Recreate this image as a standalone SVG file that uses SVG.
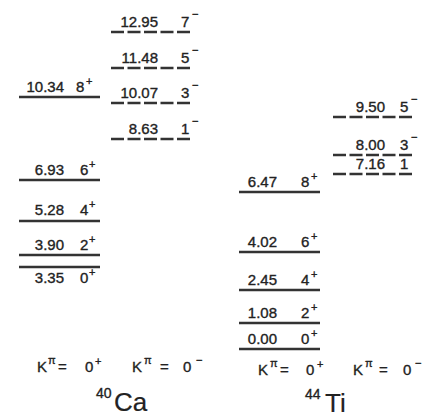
<svg xmlns="http://www.w3.org/2000/svg" width="423" height="418" viewBox="0 0 423 418">
<style>
text{font-family:"Liberation Sans",Arial,sans-serif;fill:#222;stroke:#222;stroke-width:0.35}
.e{font-size:15px;text-anchor:end}
.j{font-size:15px}
.s{font-size:11px}
.k{font-size:15px}
.solid{stroke:#333;stroke-width:2.5}
.dash{stroke:#333;stroke-width:2.5;stroke-dasharray:13 3.5}
.big{font-size:26px;stroke-width:0.2}
.mass{font-size:14px}
</style>
<rect width="423" height="418" fill="#fff"/>
<g id="connectors">
<line class="solid" x1="19" y1="97" x2="100" y2="97"/>
<line class="solid" x1="19" y1="180" x2="100" y2="180"/>
<line class="solid" x1="19" y1="221" x2="100" y2="221"/>
<line class="solid" x1="19" y1="255" x2="100" y2="255"/>
<line class="solid" x1="19" y1="267" x2="100" y2="267"/>
<line class="dash" x1="111" y1="32" x2="193" y2="32"/>
<line class="dash" x1="111" y1="68" x2="193" y2="68"/>
<line class="dash" x1="111" y1="103" x2="193" y2="103"/>
<line class="dash" x1="111" y1="139" x2="193" y2="139"/>
<line class="solid" x1="239" y1="192" x2="320" y2="192"/>
<line class="solid" x1="239" y1="252" x2="320" y2="252"/>
<line class="solid" x1="239" y1="290" x2="320" y2="290"/>
<line class="solid" x1="239" y1="323" x2="320" y2="323"/>
<line class="solid" x1="239" y1="349" x2="320" y2="349"/>
<line class="dash" x1="333" y1="117" x2="414" y2="117"/>
<line class="dash" x1="333" y1="155" x2="414" y2="155"/>
<line class="dash" x1="333" y1="174" x2="414" y2="174"/>
</g>
<g id="ca-1034"><text class="e" x="64" y="92">10.34</text><text class="j" x="76" y="92">8</text><text class="s" x="86" y="85">+</text></g>
<g id="ca-693"><text class="e" x="64" y="175">6.93</text><text class="j" x="80" y="175">6</text><text class="s" x="89" y="168">+</text></g>
<g id="ca-528"><text class="e" x="64" y="215">5.28</text><text class="j" x="80" y="215">4</text><text class="s" x="89" y="208">+</text></g>
<g id="ca-390"><text class="e" x="64" y="250">3.90</text><text class="j" x="80" y="250">2</text><text class="s" x="89" y="243">+</text></g>
<g id="ca-335"><text class="e" x="64" y="283">3.35</text><text class="j" x="80" y="283">0</text><text class="s" x="89" y="276">+</text></g>
<g id="ca-1295"><text class="e" x="158" y="27">12.95</text><text class="j" x="181" y="27">7</text><text class="s" x="192" y="18">−</text></g>
<g id="ca-1148"><text class="e" x="158" y="63">11.48</text><text class="j" x="181" y="63">5</text><text class="s" x="192" y="54">−</text></g>
<g id="ca-1007"><text class="e" x="158" y="98">10.07</text><text class="j" x="181" y="98">3</text><text class="s" x="192" y="89">−</text></g>
<g id="ca-863"><text class="e" x="158" y="134">8.63</text><text class="j" x="181" y="134">1</text><text class="s" x="192" y="125">−</text></g>
<g id="ti-647"><text class="e" x="277" y="187">6.47</text><text class="j" x="301" y="187">8</text><text class="s" x="311" y="180">+</text></g>
<g id="ti-402"><text class="e" x="277" y="247">4.02</text><text class="j" x="301" y="247">6</text><text class="s" x="311" y="240">+</text></g>
<g id="ti-245"><text class="e" x="277" y="285">2.45</text><text class="j" x="301" y="285">4</text><text class="s" x="311" y="278">+</text></g>
<g id="ti-108"><text class="e" x="277" y="318">1.08</text><text class="j" x="301" y="318">2</text><text class="s" x="311" y="311">+</text></g>
<g id="ti-000"><text class="e" x="277" y="344">0.00</text><text class="j" x="301" y="344">0</text><text class="s" x="311" y="337">+</text></g>
<g id="ti-950"><text class="e" x="385" y="112">9.50</text><text class="j" x="400" y="112">5</text><text class="s" x="411" y="103">−</text></g>
<g id="ti-800"><text class="e" x="385" y="150">8.00</text><text class="j" x="400" y="150">3</text><text class="s" x="411" y="141">−</text></g>
<g id="ti-716"><text class="e" x="385" y="169">7.16</text><text class="j" x="400" y="169">1</text></g>
<g id="k-ca-plus"><text class="k" x="37" y="372">K</text><text class="s" x="48" y="364">π</text><text class="k" x="58" y="372">=</text><text class="k" x="85" y="372">0</text><text class="s" x="95" y="365">+</text></g>
<g id="k-ca-minus"><text class="k" x="132" y="372">K</text><text class="s" x="144" y="364">π</text><text class="k" x="160" y="372">=</text><text class="k" x="183" y="372">0</text><text class="s" x="196" y="364">−</text></g>
<g id="k-ti-plus"><text class="k" x="258" y="375">K</text><text class="s" x="270" y="367">π</text><text class="k" x="280" y="375">=</text><text class="k" x="306" y="375">0</text><text class="s" x="317" y="368">+</text></g>
<g id="k-ti-minus"><text class="k" x="353" y="375">K</text><text class="s" x="365" y="367">π</text><text class="k" x="379" y="375">=</text><text class="k" x="403" y="375">0</text><text class="s" x="415" y="367">−</text></g>
<g id="ca40"><text class="mass" x="96" y="398">40</text><text class="big" x="114" y="411">Ca</text></g>
<g id="ti44"><text class="mass" x="305" y="399">44</text><text class="big" x="325" y="412">Ti</text></g>
</svg>
